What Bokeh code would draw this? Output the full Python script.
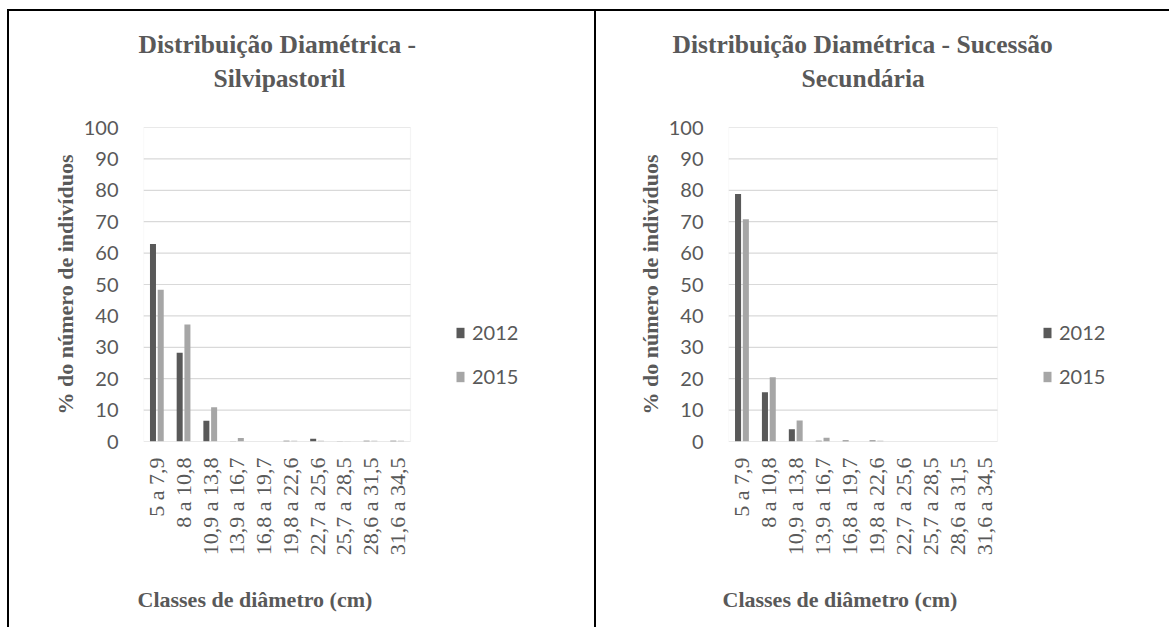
from math import pi

from bokeh.embed import file_html
from bokeh.layouts import column, row
from bokeh.models import (BoxAnnotation, ColumnDataSource, FixedTicker, Legend,
                          LegendItem, Range1d, Spacer, Title)
from bokeh.plotting import figure
from bokeh.resources import INLINE
from bokeh.transform import dodge

# Diameter classes (cm)
classes = ["5 a 7,9", "8 a 10,8", "10,9 a 13,8", "13,9 a 16,7", "16,8 a 19,7",
           "19,8 a 22,6", "22,7 a 25,6", "25,7 a 28,5", "28,6 a 31,5", "31,6 a 34,5"]

# % of individuals per class - silvopastoral system
silvi_2012 = [62.9, 28.3, 6.6, 0.1, 0.0, 0.2, 0.9, 0.1, 0.2, 0.2]
silvi_2015 = [48.3, 37.3, 10.9, 1.1, 0.0, 0.2, 0.2, 0.1, 0.2, 0.2]

# % of individuals per class - secondary succession
suc_2012 = [78.8, 15.7, 3.9, 0.2, 0.3, 0.3, 0.0, 0.0, 0.0, 0.0]
suc_2015 = [70.8, 20.5, 6.7, 1.2, 0.0, 0.2, 0.0, 0.0, 0.0, 0.0]

years = ["2012", "2015"]
y_ticks = [0, 10, 20, 30, 40, 50, 60, 70, 80, 90, 100]

DARK = "#595959"
LIGHT = "#A6A6A6"
GRID = "#D9D9D9"
TEXT = "#595959"
SERIF = "Liberation Serif"
SANS = "Lato"

N = len(classes)
LO, HI = -0.5, N - 0.5          # extent of the category area


def title_line(text, offset, standoff, size="25.5px"):
    return Title(text=text, align="left", offset=offset, text_font=SERIF,
                 text_font_size=size, text_font_style="bold",
                 text_color=TEXT, standoff=standoff)


def gap(size):
    return Title(text=" ", text_font_size="1px", standoff=size)


def make_chart(line1, line2, v2012, v2015, b_left, frame_w, cat_w,
               off1, off2, legend_x):
    src = ColumnDataSource(dict(idx=list(range(N)), a=v2012, b=v2015))
    # the frame also holds the legend area to the right of the categories
    x_end = LO + frame_w / cat_w
    p = figure(x_range=Range1d(LO, x_end), y_range=Range1d(0, 100),
               frame_width=frame_w, frame_height=314,
               min_border_left=b_left, min_border_right=5,
               min_border_top=116, min_border_bottom=186,
               output_backend="svg", toolbar_location=None)
    p.background_fill_color = "white"
    p.border_fill_color = "white"
    p.outline_line_color = None
    p.xgrid.grid_line_color = None
    p.ygrid.grid_line_color = None

    # horizontal gridlines and plot-area box over the category area only
    p.segment(x0=LO, x1=HI, y0=y_ticks, y1=y_ticks, line_color=GRID,
              line_width=1.2, level="underlay")
    p.add_layout(BoxAnnotation(left=LO, right=HI, bottom=0, top=100,
                               fill_alpha=0, line_color=GRID, line_width=1.2))

    r1 = p.vbar(x=dodge("idx", -0.145), top="a", width=0.225, source=src,
                fill_color=DARK, line_color=None)
    r2 = p.vbar(x=dodge("idx", 0.145), top="b", width=0.225, source=src,
                fill_color=LIGHT, line_color=None)

    # two-line chart title above a small gap
    p.add_layout(gap(30), "above")
    p.add_layout(title_line(line2, off2, 3), "above")
    p.add_layout(title_line(line1, off1, 3), "above")

    p.yaxis.ticker = FixedTicker(ticks=y_ticks)
    p.yaxis.axis_line_color = None
    p.yaxis.major_tick_line_color = None
    p.yaxis.minor_tick_line_color = None
    p.yaxis.major_label_standoff = 19
    p.yaxis.major_label_text_font = SANS
    p.yaxis.major_label_text_font_size = "20px"
    p.yaxis.major_label_text_color = TEXT
    p.yaxis.axis_label = "% do número de indivíduos"
    p.yaxis.axis_label_text_font = SERIF
    p.yaxis.axis_label_text_font_size = "22px"
    p.yaxis.axis_label_text_font_style = "bold"
    p.yaxis.axis_label_text_color = TEXT
    p.yaxis.axis_label_standoff = 3

    p.xaxis.ticker = FixedTicker(ticks=list(range(N)))
    p.xaxis.major_label_overrides = {i: c for i, c in enumerate(classes)}
    p.xaxis.bounds = (LO, HI)
    p.xaxis.axis_line_color = None
    p.xaxis.major_tick_line_color = None
    p.xaxis.minor_tick_line_color = None
    p.xaxis.major_label_orientation = pi / 2
    p.xaxis.major_label_standoff = 10
    p.xaxis.major_label_text_font = SERIF
    p.xaxis.major_label_text_font_size = "22px"
    p.xaxis.major_label_text_color = TEXT

    # horizontal axis title under the category labels
    p.add_layout(gap(22), "below")
    p.add_layout(title_line("Classes de diâmetro (cm)", -6, 2, "22px"), "below")

    legend = Legend(items=[LegendItem(label=years[0], renderers=[r1]),
                           LegendItem(label=years[1], renderers=[r2])],
                    location=(legend_x, 53), padding=0, margin=0,
                    border_line_color=None, background_fill_alpha=0,
                    glyph_width=10, glyph_height=13, label_standoff=7,
                    label_height=20, spacing=20,
                    label_text_font=SANS, label_text_font_size="20px",
                    label_text_color=TEXT)
    p.add_layout(legend)
    return p


p1 = make_chart("Distribuição Diamétrica -", "Silvipastoril",
                silvi_2012, silvi_2015, 134, 446, 26.7, -5, 70, 312)
p2 = make_chart("Distribuição Diamétrica - Sucessão", "Secundária",
                suc_2012, suc_2015, 132, 436, 26.9, -56, 73, 314)

black = {"background-color": "black"}
layout = column(
    Spacer(width=1169, height=9),
    row(Spacer(width=7, height=2), Spacer(width=1162, height=2, styles=black)),
    row(Spacer(width=7, height=616),
        Spacer(width=2, height=616, styles=black),
        p1,
        Spacer(width=2, height=616, styles=black),
        p2),
)

open("out.html", "w").write(file_html(layout, INLINE))
